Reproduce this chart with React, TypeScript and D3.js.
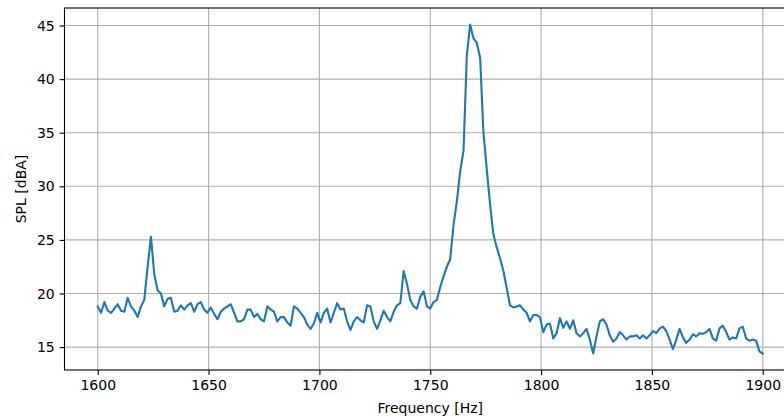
import React, { useRef, useEffect } from "react";
import * as d3 from "d3";

// spectrum sampled every 1.5 Hz starting at 1600 Hz
const startFreq = 1600;
const freqStep = 1.5;
const splValues = [
  18.8, 18.2, 19.2, 18.4, 18.2, 18.6, 19.0, 18.4, 18.3, 19.6,
  18.8, 18.4, 17.8, 18.8, 19.4, 22.5, 25.3, 21.8, 20.3, 20.0,
  18.8, 19.5, 19.6, 18.3, 18.4, 18.9, 18.5, 18.9, 19.1, 18.3,
  19.0, 19.2, 18.5, 18.2, 18.7, 18.1, 17.6, 18.3, 18.6, 18.8,
  19.0, 18.2, 17.4, 17.4, 17.6, 18.5, 18.5, 17.8, 18.1, 17.6,
  17.4, 18.8, 18.5, 18.3, 17.4, 17.8, 17.8, 17.3, 17.0, 18.8,
  18.6, 18.2, 17.8, 17.1, 16.7, 17.2, 18.2, 17.3, 18.2, 18.6,
  17.3, 18.2, 19.1, 18.5, 18.6, 17.4, 16.6, 17.4, 17.8, 17.5,
  17.3, 18.9, 18.8, 17.4, 16.7, 17.5, 18.4, 17.8, 17.4, 18.3,
  18.9, 19.1, 22.1, 20.9, 19.4, 18.8, 18.6, 19.7, 20.2, 18.8,
  18.6, 19.2, 19.4, 20.6, 21.6, 22.5, 23.2, 26.4, 28.6, 31.4,
  33.3, 42.2, 45.1, 43.8, 43.4, 42.0, 35.0, 31.6, 28.3, 25.5,
  24.3, 23.3, 22.1, 20.5, 18.9, 18.7, 18.8, 18.9, 18.5, 18.2,
  17.4, 18.0, 18.0, 17.8, 16.4, 17.1, 17.2, 15.8, 16.3, 17.7,
  16.8, 17.4, 16.7, 17.5, 16.3, 16.0, 16.3, 16.7, 15.7, 14.4,
  16.0, 17.4, 17.6, 17.1, 16.1, 15.5, 15.8, 16.4, 16.1, 15.7,
  16.0, 16.0, 16.1, 15.8, 16.1, 15.8, 16.1, 16.5, 16.3, 16.75,
  16.9, 16.5, 15.7, 14.8, 15.7, 16.7, 15.9, 15.4, 15.7, 16.2,
  16.0, 16.3, 16.25, 16.4, 16.7, 15.8, 15.6, 16.75, 17.0, 16.4,
  15.7, 15.9, 15.8, 16.75, 16.9, 15.8, 15.6, 15.7, 15.6, 14.6,
  14.4,
];

const xTicks = [1600, 1650, 1700, 1750, 1800, 1850, 1900];
const yTicks = [15, 20, 25, 30, 35, 40, 45];
const xLabel = "Frequency [Hz]";
const yLabel = "SPL [dBA]";

const width = 784;
const height = 419;
const plot = { left: 64.5, right: 796, top: 8, bottom: 370 };
const font = "'DejaVu Sans', sans-serif";

const App = () => {
  const svgRef = useRef<SVGSVGElement>(null);

  useEffect(() => {
    if (!svgRef.current) return;
    const svg = d3.select(svgRef.current);
    svg.selectAll("*").remove();

    const points = splValues.map((v, i) => ({ f: startFreq + i * freqStep, spl: v }));

    // matplotlib style 5% margins around the data
    const [fLo, fHi] = d3.extent(points, (d) => d.f) as [number, number];
    const [sLo, sHi] = d3.extent(splValues) as [number, number];
    const fPad = (fHi - fLo) * 0.05;
    const sPad = (sHi - sLo) * 0.05;

    const x = d3.scaleLinear().domain([fLo - fPad, fHi + fPad]).range([plot.left, plot.right]);
    const y = d3.scaleLinear().domain([sLo - sPad, sHi + sPad]).range([plot.bottom, plot.top]);

    svg.append("rect").attr("width", width).attr("height", height).attr("fill", "#fff");

    //grid
    const grid = svg.append("g").attr("stroke", "#b0b0b0").attr("stroke-width", 1.1);
    grid
      .selectAll("line.gx")
      .data(xTicks)
      .enter()
      .append("line")
      .attr("x1", (d) => x(d))
      .attr("x2", (d) => x(d))
      .attr("y1", plot.top)
      .attr("y2", plot.bottom);
    grid
      .selectAll("line.gy")
      .data(yTicks)
      .enter()
      .append("line")
      .attr("x1", plot.left)
      .attr("x2", plot.right)
      .attr("y1", (d) => y(d))
      .attr("y2", (d) => y(d));

    //spectrum line
    const line = d3
      .line<{ f: number; spl: number }>()
      .x((d) => x(d.f))
      .y((d) => y(d.spl));
    svg
      .append("path")
      .datum(points)
      .attr("d", line)
      .attr("fill", "none")
      .attr("stroke", "#1f77b4")
      .attr("stroke-width", 2.1)
      .attr("stroke-linejoin", "round")
      .attr("stroke-linecap", "square");

    //frame
    svg
      .append("rect")
      .attr("x", plot.left)
      .attr("y", plot.top)
      .attr("width", plot.right - plot.left)
      .attr("height", plot.bottom - plot.top)
      .attr("fill", "none")
      .attr("stroke", "#000")
      .attr("stroke-width", 1.1);

    //axes
    const xAxis = svg
      .append("g")
      .attr("transform", `translate(0,${plot.bottom})`)
      .call(d3.axisBottom(x).tickValues(xTicks).tickSize(4.9).tickPadding(4.9).tickFormat(d3.format("d")));
    const yAxis = svg
      .append("g")
      .attr("transform", `translate(${plot.left},0)`)
      .call(d3.axisLeft(y).tickValues(yTicks).tickSize(4.9).tickPadding(4.9).tickFormat(d3.format("d")));
    [xAxis, yAxis].forEach((g) => {
      g.select(".domain").remove();
      g.selectAll(".tick line").attr("stroke", "#000").attr("stroke-width", 1.1);
      g.selectAll(".tick text").attr("fill", "#000").style("font-family", font).style("font-size", "14px");
    });

    svg
      .append("text")
      .attr("x", (plot.left + plot.right) / 2)
      .attr("y", 413)
      .attr("text-anchor", "middle")
      .style("font-family", font)
      .style("font-size", "14px")
      .text(xLabel);

    svg
      .append("text")
      .attr("transform", `translate(26,${(plot.top + plot.bottom) / 2}) rotate(-90)`)
      .attr("text-anchor", "middle")
      .style("font-family", font)
      .style("font-size", "14px")
      .text(yLabel);
  }, []);

  return (
    <svg
      ref={svgRef}
      width={width}
      height={height}
      style={{ position: "absolute", left: 0, top: 0 }}
    />
  );
};

export default App;
